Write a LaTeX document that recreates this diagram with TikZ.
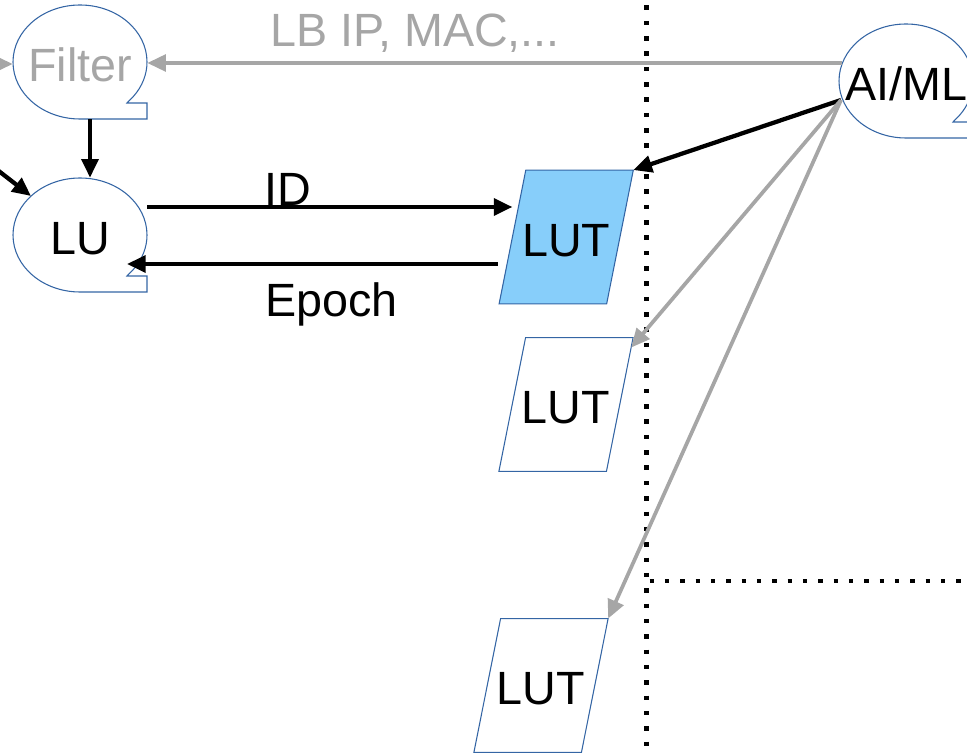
\documentclass[tikz,border=0pt]{standalone}
\usepackage{fontspec}
\setmainfont{Liberation Sans}
\usetikzlibrary{arrows.meta,calc,backgrounds}

\definecolor{fadegray}{HTML}{A6A6A6}
\definecolor{shapeblue}{HTML}{3465A4}
\definecolor{lutfill}{HTML}{87CEFA}

\newcommand\bigfont{\fontsize{35}{42}\selectfont}

\tikzset{
  outline/.style={draw=shapeblue, line width=0.8pt, line join=miter},
  storebox/.style={minimum width=100.5pt, minimum height=85.5pt, inner sep=0pt,
                   text height=29pt, text depth=0pt},
  lutbox/.style={minimum width=80.25pt, minimum height=100pt, inner sep=0pt,
                 text height=29pt, text depth=0pt},
  labeltext/.style={anchor=base, inner sep=0pt},
  link/.style={-{Triangle[length=14pt,width=12.5pt]}},
  blacklink/.style={link, draw=black, line width=3.2pt},
  graylink/.style={link, draw=fadegray, line width=2.8pt},
  border/.style={line width=3.3pt, dash pattern=on 3.3pt off 8.2pt},
}

% sequential-storage outline: ellipse with a square tail at the lower right
\newcommand\tapeoutline[1]{%
  \draw[outline, shift={(#1.center)}]
    (67,-57) -- (0,-57)
    arc[start angle=270, end angle=-37, x radius=67, y radius=57]
    -- (47,-41) -- (67,-41) -- cycle;}

% slanted table outline around a LUT node
\newcommand\lutoutline[2][]{%
  \draw[outline, #1]
    ($(#2.north west)+(13.35,0)$) -- ($(#2.north east)+(13.35,0)$)
    -- ($(#2.south east)+(-13.35,0)$) -- ($(#2.south west)+(-13.35,0)$) -- cycle;}

\begin{document}
\begin{tikzpicture}[x=0.75pt, y=0.75pt, font=\bigfont]
\useasboundingbox (0,0) rectangle (967,-755);

% functional blocks
\node[storebox, text=fadegray] (filter) at (80,-62) {Filter};
\node[storebox] (lu) at (80,-235) {LU};
\node[storebox] (aiml) at (906,-81) {AI/ML};

% lookup tables
\node[lutbox] (lut1) at (566.2,-237) {LUT};
\node[lutbox] (lut2) at (566,-404.5) {LUT};
\node[lutbox] (lut3) at (541,-685.5) {LUT};

% labels
\node[labeltext, text=fadegray] (lbinfo) at (415,-47) {LB IP, MAC,...};
\node[labeltext] (idlbl) at (288,-206) {ID};
\node[labeltext] (epochlbl) at (331.5,-317) {Epoch};

% outlines behind the text
\begin{scope}[on background layer]
  \tapeoutline{filter}
  \tapeoutline{lu}
  \tapeoutline{aiml}
  \lutoutline[fill=lutfill]{lut1}
  \lutoutline{lut2}
  \lutoutline{lut3}
\end{scope}

% domain boundaries
\draw[border] (646.5,-5.5) -- (646.5,-760);
\draw[border] (649.5,-581) -- (975,-581);

% port coordinates
\coordinate (infilter) at (-30,-64);
\coordinate (inlu) at (-31,-148);
\coordinate (aimlleft) at ($(aiml.center)+(-64,18)$);
\coordinate (aimlport) at ($(aiml.center)+(-65,-19)$);
\coordinate (idstart) at ($(lu.east)+(0,28)$);
\coordinate (epochstart) at ($(lut1.west)+(-14.5,-27)$);

% connectors
\draw[graylink] (infilter) -- (infilter -| filter.west);
\draw[graylink] (aimlleft) -- (aimlleft -| filter.east);
\draw[blacklink] ($(filter.south)+(10,0)$) -- ($(lu.north)+(10,0)$);
\draw[blacklink] (inlu) -- ($(lu.center)+(-49,39)$);
\draw[blacklink] (idstart) -- (idstart -| lut1.west);
\draw[blacklink] (epochstart) -- ($(lu.center)+(47,-29)$);
\draw[blacklink] (aimlport) -- ($(lut1.north east)+(13.4,0)$);
\draw[graylink] (aimlport) -- ($(lut2.north east)+(11.4,-10)$);
\draw[graylink] (aimlport) -- ($(lut3.north east)+(13.4,0)$);
\end{tikzpicture}
\end{document}
